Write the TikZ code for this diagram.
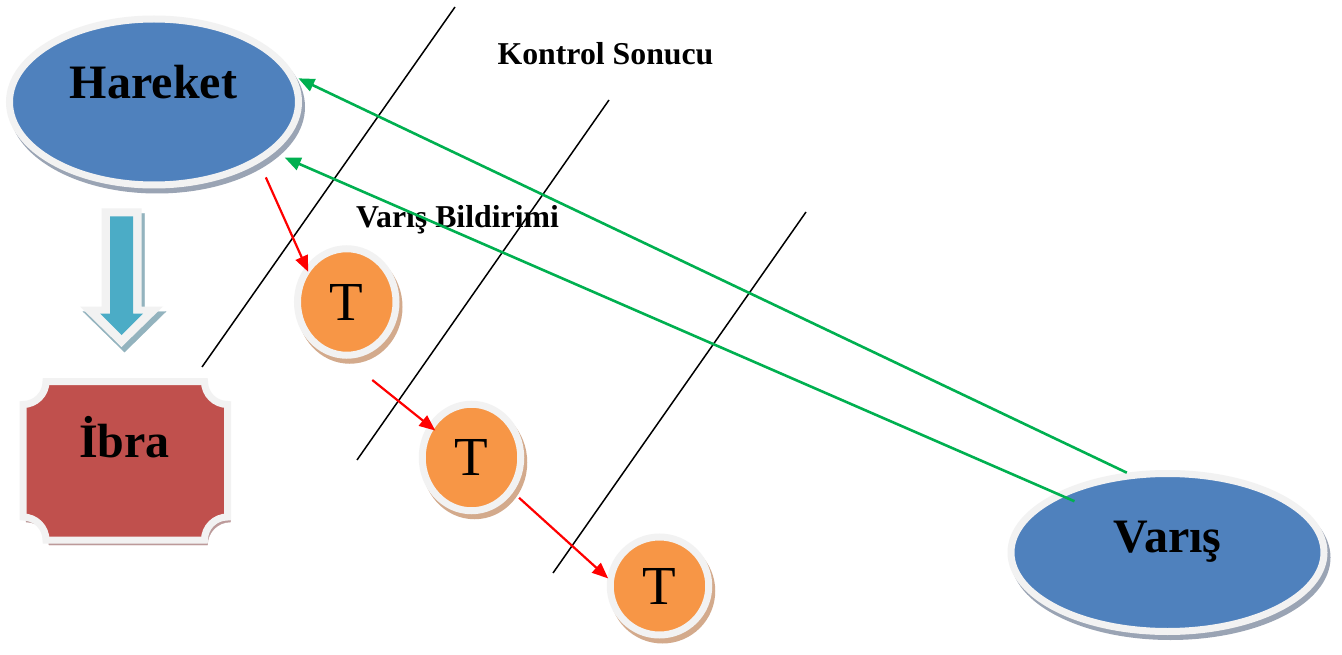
\documentclass[tikz,border=0pt]{standalone}
\usepackage{fontspec}
\setmainfont{Liberation Serif}
\usetikzlibrary{arrows.meta,shapes.geometric}

\definecolor{ringgray}{HTML}{F2F2F2}
\definecolor{nodeblue}{HTML}{4F81BD}
\definecolor{blueshadow}{HTML}{9AA4B4}
\definecolor{plaquered}{HTML}{C0504D}
\definecolor{redshadow}{HTML}{BC9A9A}
\definecolor{torange}{HTML}{F79646}
\definecolor{orangeshadow}{HTML}{D3AA8C}
\definecolor{arrowteal}{HTML}{4BACC6}
\definecolor{tealshadow}{HTML}{93B3BE}
\definecolor{linkgreen}{HTML}{00B050}
\definecolor{linkred}{HTML}{FF0000}

\begin{document}
\begin{tikzpicture}[x=1pt,y=-1pt,
  shadowed/.style={preaction={draw=#1,fill=#1,transform canvas={shift={(3pt,-5pt)}}}},
  bubble/.style={ellipse,draw=ringgray,line width=7pt,fill=nodeblue,inner sep=0pt,shadowed=blueshadow},
  token/.style={ellipse,draw=ringgray,line width=7pt,fill=torange,inner sep=0pt,shadowed=orangeshadow,
    font=\fontsize{55}{55}\selectfont},
  bigtext/.style={anchor=base,font=\bfseries\fontsize{48}{48}\selectfont},
  notetext/.style={anchor=base,font=\bfseries\fontsize{31.8}{32}\selectfont},
  divider/.style={black,line width=1.5pt},
  feedback/.style={linkgreen,line width=2.6pt,-{Triangle[length=16pt,width=13pt]}},
  handoff/.style={linkred,line width=2.2pt,-{Triangle[length=16pt,width=13pt]}},
]
% canvas
\fill[white] (0,0) rectangle (1342,655);
\path[use as bounding box] (0,0) rectangle (1342,655);

% departure and arrival
\node[bubble,minimum width=289pt,minimum height=166pt] (hareket) at (154,102) {};
\node[bigtext] (hareketlabel) at (153.5,99) {Hareket};
\node[bubble,minimum width=313pt,minimum height=158pt] (varis) at (1167.5,552.5) {};
\node[bigtext] (varislabel) at (1167.5,552) {Varış};

% downward block arrow
\path[fill=ringgray,shadowed=tealshadow]
  (101.5,208.5) -- (141.5,208.5) -- (141.5,306.5) -- (163,306.5)
  -- (121.5,347) -- (80,306.5) -- (101.5,306.5) -- cycle;
\fill[arrowteal]
  (110,216.5) -- (133,216.5) -- (133,313.5) -- (143,313.5)
  -- (121.5,335) -- (100,313.5) -- (110,313.5) -- cycle;

% plaque with concave corners
\path[draw=ringgray,line width=7pt,fill=plaquered,shadowed=redshadow]
  (46,381.5) -- (204.5,381.5) arc[start angle=180,end angle=90,radius=23]
  -- (227.5,517) arc[start angle=270,end angle=180,radius=23]
  -- (46,540) arc[start angle=0,end angle=-90,radius=23]
  -- (23,404.5) arc[start angle=90,end angle=0,radius=23] -- cycle;
\node[bigtext] (ibra) at (124.5,457) {İbra};

% transit tokens
\node[token,minimum width=98.5pt,minimum height=106.5pt] (t1) at (346.75,302) {T};
\node[token,minimum width=98.5pt,minimum height=106.5pt] (t2) at (471.5,457.5) {T};
\node[token,minimum width=98.5pt,minimum height=98pt] (t3) at (659.5,586) {T};

% captions
\node[notetext] (kontrol) at (605.5,65) {Kontrol Sonucu};
\node[notetext] (bildirim) at (457.5,228) {Varış Bildirimi};

% border lines
\coordinate (d1a) at (202,367);  \coordinate (d1b) at (455,7);
\coordinate (d2a) at (357,460);  \coordinate (d2b) at (609,100);
\coordinate (d3a) at (553,573);  \coordinate (d3b) at (806,212);
\draw[divider] (d1a) -- (d1b);
\draw[divider] (d2a) -- (d2b);
\draw[divider] (d3a) -- (d3b);

% notifications back to departure
\draw[feedback,shorten >=3pt] (varis.117.6) -- (hareket.10);
\draw[feedback,shorten <=-20pt,shorten >=12pt] (varis.152.6) -- (hareket.-23.3);

% forwarding chain
\draw[handoff,shorten <=16pt,shorten >=-6pt] (hareket.-30) -- (t1.139);
\draw[handoff,shorten <=34pt,shorten >=-9pt] (t1.-91) -- (t2.143);
\draw[handoff,shorten <=8pt,shorten >=-1pt] (t2.-40) -- (t3.171);
\end{tikzpicture}
\end{document}
